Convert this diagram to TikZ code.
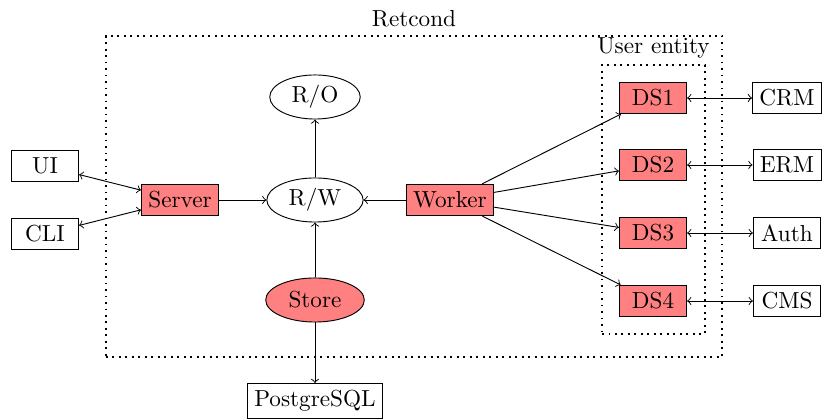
\documentclass[tikz,border=0pt]{standalone}
\usetikzlibrary{shapes.geometric}
\begin{document}
\begin{tikzpicture}[x=0.431pt,y=-0.431pt,
  box/.style={draw,rectangle,minimum height=13.5pt,minimum width=29pt,inner sep=3pt},
  redbox/.style={box,fill=red!50},
  ell/.style={draw,ellipse,inner sep=0pt,minimum height=19pt},
  conn/.style={->},
  biconn/.style={<->},
  grp/.style={draw,dotted,thick}]
\useasboundingbox (0,0) rectangle (823,420);
% groups
\node[grp,minimum width=616*0.431pt,minimum height=321*0.431pt] (outer) at (414,196.5) {};
\node[anchor=south] (retcond) at (outer.north) {Retcond};
\node[grp,minimum width=103*0.431pt,minimum height=269*0.431pt] (inner) at (653.5,199.5) {};
\node[anchor=south,inner sep=2.2pt] (userent) at (inner.north) {User entity};
% nodes
\node[ell,minimum width=39pt] (ro) at (315,97) {R/O};
\node[ell,minimum width=41.5pt] (rw) at (315,200) {R/W};
\node[ell,minimum width=42.5pt,fill=red!50] (store) at (315,300) {Store};
\node[box] (pg) at (315,401) {PostgreSQL};
\node[redbox] (server) at (180,200) {Server};
\node[box] (ui) at (45,166) {UI};
\node[box] (cli) at (45,234) {CLI};
\node[redbox] (worker) at (450,200) {Worker};
\node[redbox] (ds1) at (653,98) {DS1};
\node[redbox] (ds2) at (653,165) {DS2};
\node[redbox] (ds3) at (653,233) {DS3};
\node[redbox] (ds4) at (653,301) {DS4};
\node[box] (crm) at (787,98) {CRM};
\node[box] (erm) at (787,165) {ERM};
\node[box] (auth) at (787,233) {Auth};
\node[box] (cms) at (787,301) {CMS};
% connectors
\draw[biconn] (ui) -- (server);
\draw[biconn] (cli) -- (server);
\draw[conn] (server) -- (rw);
\draw[conn] (rw) -- (ro);
\draw[conn] (store) -- (rw);
\draw[conn] (store) -- (pg);
\draw[conn] (worker) -- (rw);
\draw[conn] (worker) -- (ds1);
\draw[conn] (worker) -- (ds2);
\draw[conn] (worker) -- (ds3);
\draw[conn] (worker) -- (ds4);
\draw[biconn] (ds1) -- (crm);
\draw[biconn] (ds2) -- (erm);
\draw[biconn] (ds3) -- (auth);
\draw[biconn] (ds4) -- (cms);
\end{tikzpicture}
\end{document}
